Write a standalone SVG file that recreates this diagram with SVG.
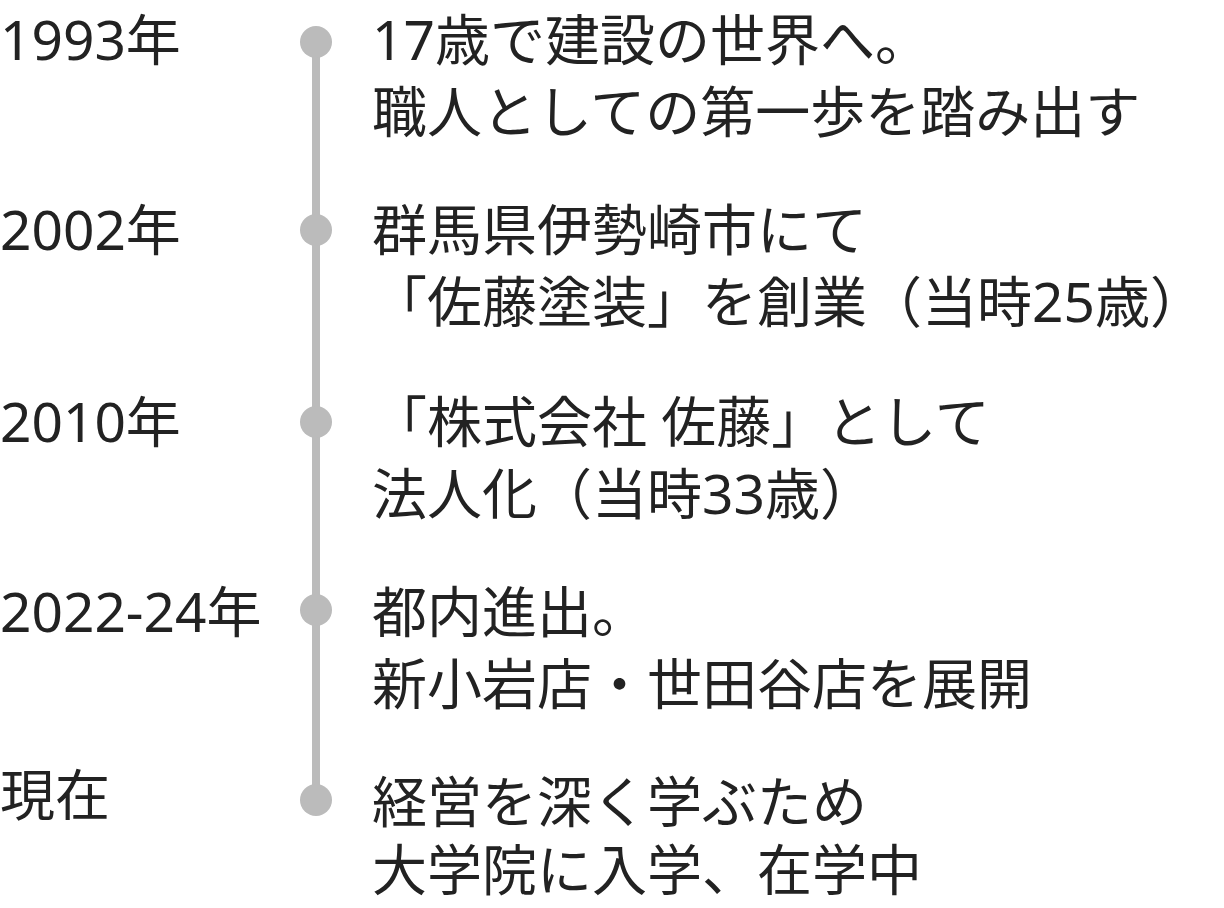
<svg xmlns="http://www.w3.org/2000/svg" width="1224" height="908" viewBox="0 0 1224 908">
<style>
text{font-family:"Noto Sans","Noto Sans CJK JP",sans-serif;font-size:55px;fill:#222}
.dot{fill:#bbbbbb}
</style>
<rect width="1224" height="908" fill="#fff"/>
<g id="connectors"><line x1="316" y1="42" x2="316" y2="800" stroke="#bbbbbb" stroke-width="8"/></g>
<g id="n1"><circle class="dot" cx="316" cy="42" r="16"/><text x="0" y="60">1993年</text><text x="372" y="60">17歳で建設の世界へ。</text><text x="372" y="132">職人としての第一歩を踏み出す</text></g>
<g id="n2"><circle class="dot" cx="316" cy="230" r="16"/><text x="0" y="250">2002年</text><text x="372" y="250">群馬県伊勢崎市にて</text><text x="372" y="322">「佐藤塗装」を創業（当時25歳）</text></g>
<g id="n3"><circle class="dot" cx="316" cy="422" r="16"/><text x="0" y="442">2010年</text><text x="372" y="442">「株式会社 佐藤」として</text><text x="372" y="514">法人化（当時33歳）</text></g>
<g id="n4"><circle class="dot" cx="316" cy="610" r="16"/><text x="0" y="632">2022-24年</text><text x="372" y="632">都内進出。</text><text x="372" y="704">新小岩店・世田谷店を展開</text></g>
<g id="n5"><circle class="dot" cx="316" cy="800" r="16"/><text x="0" y="815">現在</text><text x="372" y="822">経営を深く学ぶため</text><text x="372" y="890">大学院に入学、在学中</text></g>
</svg>
